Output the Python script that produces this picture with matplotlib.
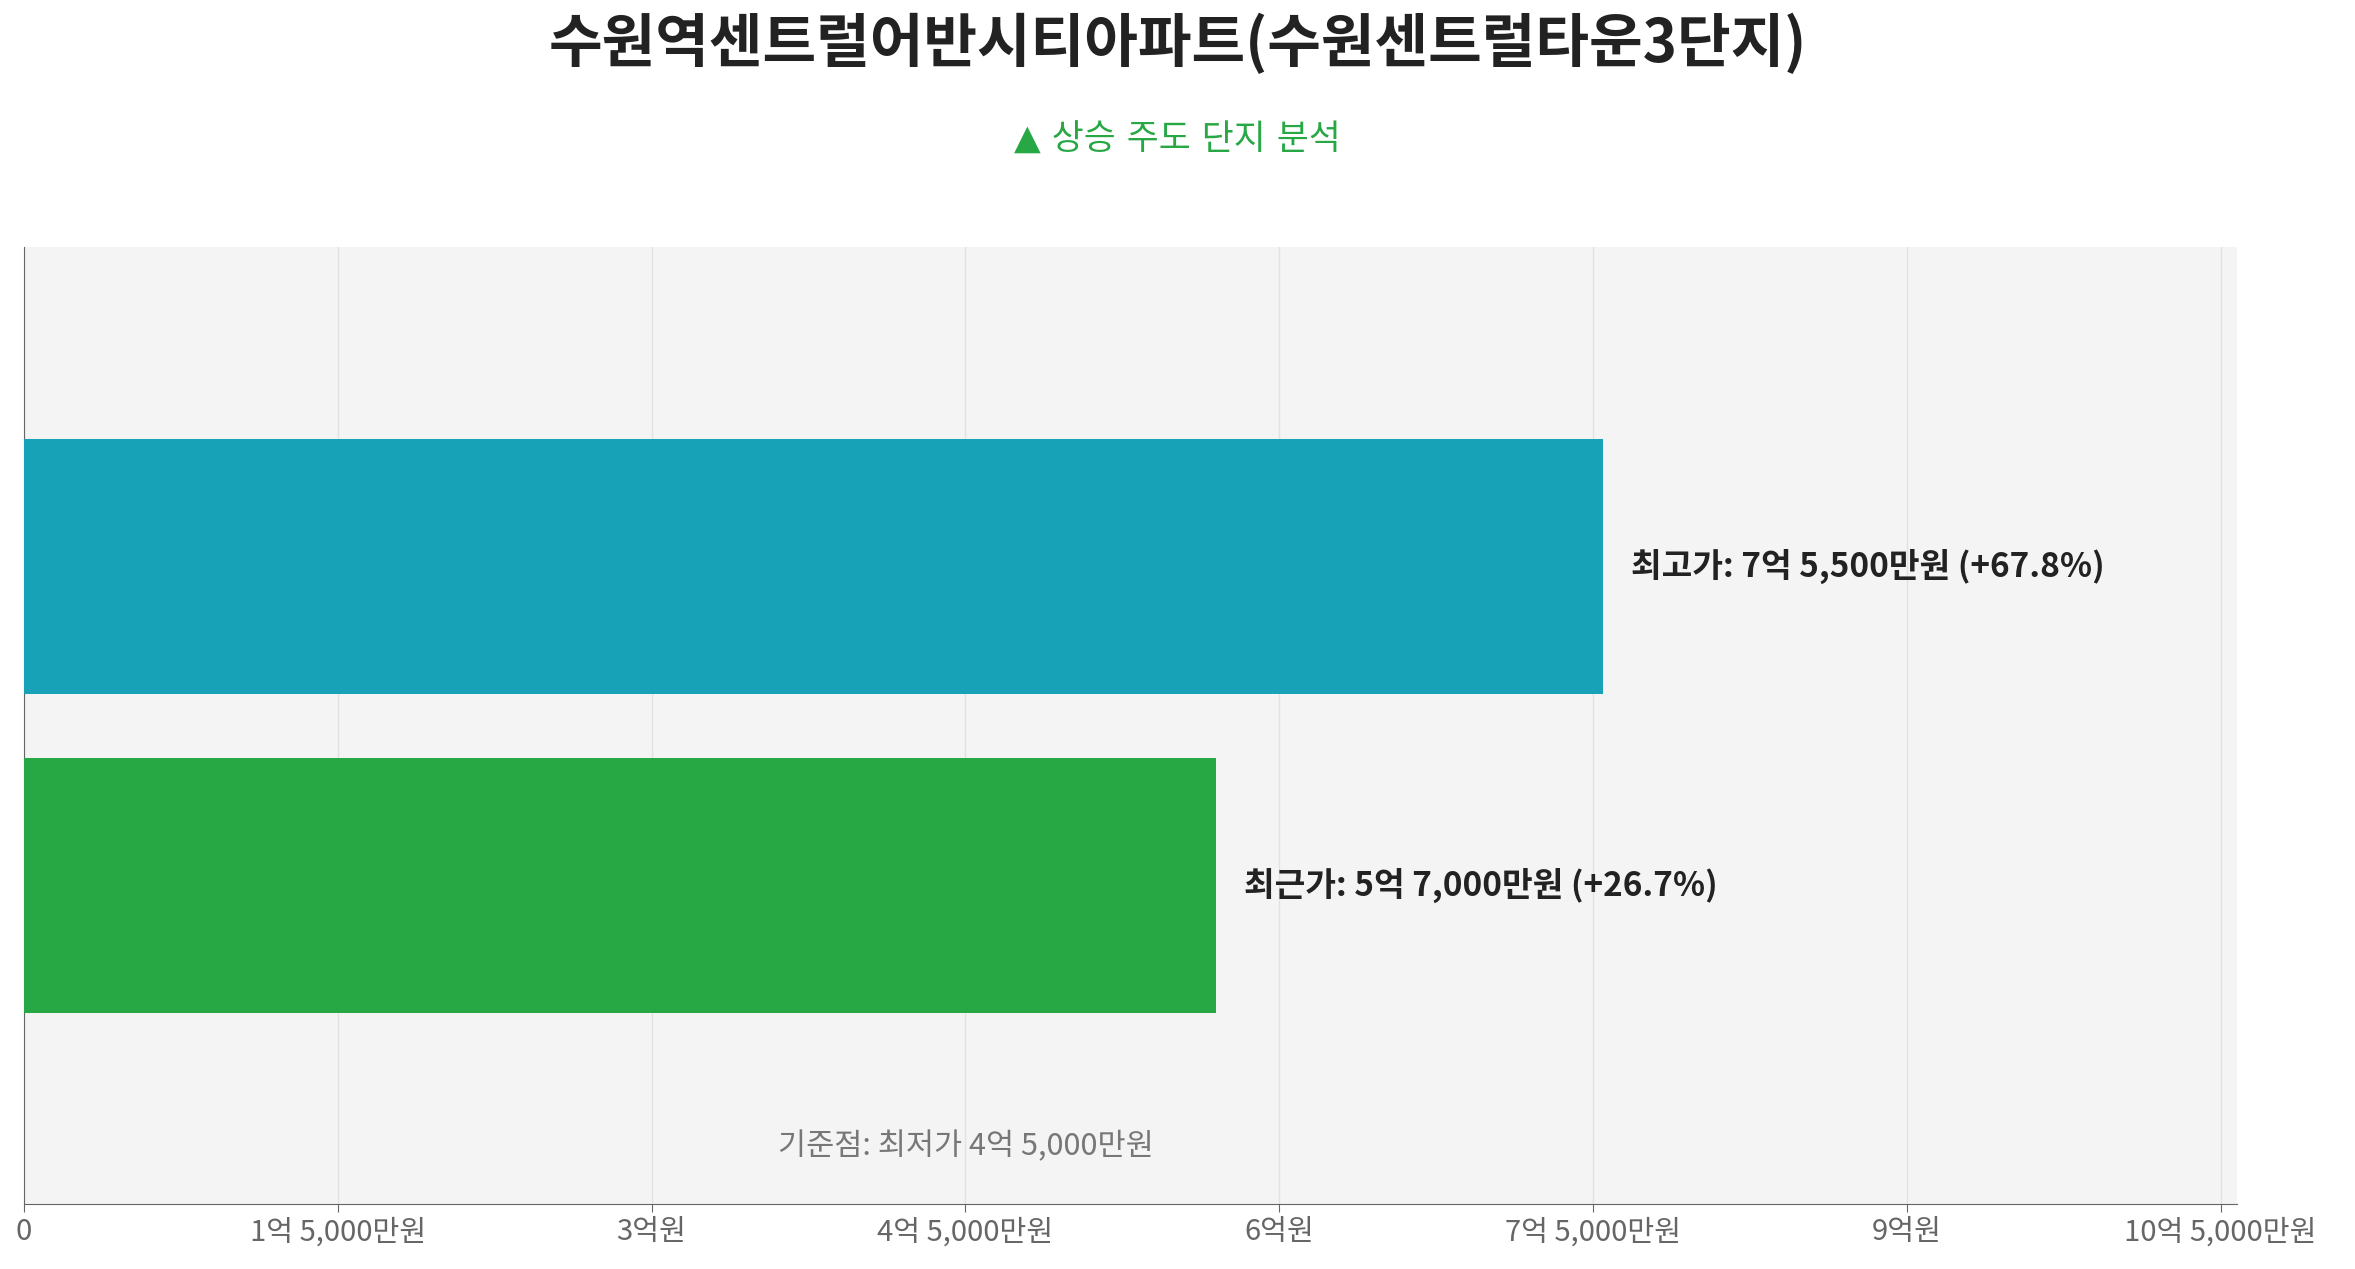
import matplotlib
matplotlib.use("Agg")
import matplotlib.pyplot as plt

plt.rcParams['font.family'] = ['Noto Sans CJK KR', 'DejaVu Sans']

categories = ["최근가", "최고가"]
values = [5.7e8, 7.55e8]
labels = ["최근가: 5억 7,000만원 (+26.7%)", "최고가: 7억 5,500만원 (+67.8%)"]
colors = ["#28a745", "#17a2b8"]
ticks = [0, 1.5e8, 3e8, 4.5e8, 6e8, 7.5e8, 9e8, 10.5e8]
tick_labels = ["0", "1억 5,000만원", "3억원", "4억 5,000만원", "6억원",
               "7억 5,000만원", "9억원", "10억 5,000만원"]
base_text = "기준점: 최저가 4억 5,000만원"

fig = plt.figure(figsize=(23.55, 12.69), dpi=100)
ax = fig.add_axes([0.0102, 0.051, 0.9398, 0.754])
ax.set_facecolor("#f4f4f4")

ax.barh(range(len(values)), values, height=0.8, color=colors, zorder=3)
for i, (v, t) in enumerate(zip(values, labels)):
    ax.text(v + 0.13e8, i, t, va="center", ha="left", fontsize=24,
            fontweight="bold", color="#222222", zorder=4)

ax.text(4.5e8, -0.82, base_text, ha="center", va="center", fontsize=22, color="#777777")

ax.set_xlim(0, 10.58e8)
ax.set_ylim(-1, 2)
ax.set_xticks(ticks)
ax.set_xticklabels(tick_labels, fontsize=21, color="#666666")
ax.set_yticks([])
ax.grid(axis="x", color="#e2e2e2", linewidth=1, zorder=0)
for s in ["top", "right"]:
    ax.spines[s].set_visible(False)
for s in ["left", "bottom"]:
    ax.spines[s].set_color("#666666")
ax.tick_params(axis="x", length=6, color="#666666")

fig.text(0.5, 0.965, "수원역센트럴어반시티아파트(수원센트럴타운3단지)", ha="center", va="center",
         fontsize=42, fontweight="bold", color="#222222")
fig.text(0.5, 0.89, "▲ 상승 주도 단지 분석", ha="center", va="center",
         fontsize=25, color="#28a745", family=['DejaVu Sans', 'Noto Sans CJK KR'])
fig.savefig("out.png")
